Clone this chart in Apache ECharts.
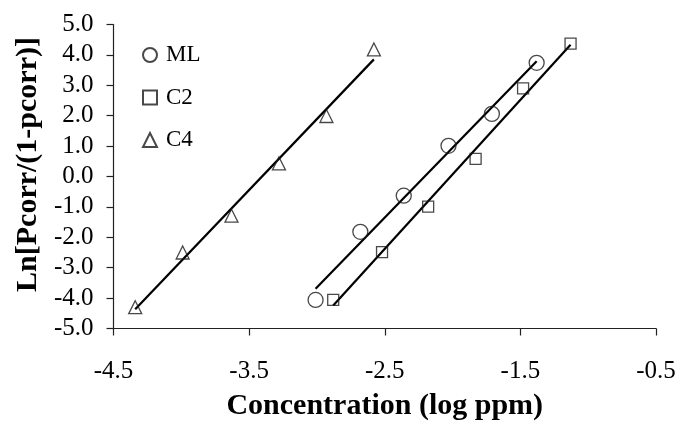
<!DOCTYPE html>
<html>
<head>
<meta charset="utf-8">
<script src="https://cdn.jsdelivr.net/npm/echarts@6/dist/echarts.min.js"></script>
<style>
  html, body { margin: 0; padding: 0; background: #fff; }
  #chart { width: 679px; height: 421px; }
</style>
</head>
<body>
<div id="chart"></div>
<script>
// Probit-style dose–response data: log concentration vs Ln[P/(1-P)]
const mlX = [-3.01, -2.68, -2.36, -2.03, -1.71, -1.38];
const mlY = [-4.06, -1.82, -0.63, 1.01, 2.06, 3.74];
const c2X = [-2.88, -2.52, -2.18, -1.83, -1.48, -1.13];
const c2Y = [-4.06, -2.49, -0.99, 0.58, 2.90, 4.37];
const c4X = [-4.34, -3.99, -3.63, -3.28, -2.93, -2.58];
const c4Y = [-4.30, -2.50, -1.29, 0.43, 1.99, 4.18];

const seriesNames = ['ML', 'C2', 'C4'];
const xTicks = { min: -4.5, max: -0.5, step: 1 };
const yTicks = { min: -5, max: 5, step: 1 };

const FONT = "'Liberation Serif', 'Times New Roman', serif";

function pairs(xs, ys) { return xs.map((x, i) => [x, ys[i]]); }

// Least-squares straight line over the range of the observed x values
function fitLine(xs, ys) {
  const n = xs.length;
  const mx = xs.reduce((a, b) => a + b, 0) / n;
  const my = ys.reduce((a, b) => a + b, 0) / n;
  let sxy = 0, sxx = 0;
  for (let i = 0; i < n; i++) {
    sxy += (xs[i] - mx) * (ys[i] - my);
    sxx += (xs[i] - mx) * (xs[i] - mx);
  }
  const b = sxy / sxx, a = my - b * mx;
  const x0 = Math.min(...xs), x1 = Math.max(...xs);
  return [[x0, a + b * x0], [x1, a + b * x1]];
}

const markerStyle = { color: 'rgba(255,255,255,0)', borderColor: '#1a1a1a', borderWidth: 1.3 };

function scatter(name, xs, ys, symbol, size) {
  return {
    name, type: 'scatter', data: pairs(xs, ys), symbol, symbolSize: size,
    itemStyle: markerStyle, z: 3
  };
}
function trend(xs, ys) {
  return {
    type: 'line', data: fitLine(xs, ys), showSymbol: false, symbol: 'none',
    lineStyle: { color: '#000', width: 2.2 }, silent: true, z: 2
  };
}

const chart = echarts.init(document.getElementById('chart'), null, { renderer: 'canvas' });
chart.setOption({
  animation: false,
  backgroundColor: '#fff',
  grid: { left: 113.5, right: 23, top: 24.5, bottom: 92.5, containLabel: false, outerBoundsMode: 'none' },
  legend: {
    data: [
      { name: 'ML', icon: 'circle' },
      { name: 'C2', icon: 'rect' },
      { name: 'C4', icon: 'triangle' }
    ],
    orient: 'vertical', left: 137, top: 38,
    itemWidth: 14, itemHeight: 14, itemGap: 18.5,
    textStyle: { fontFamily: FONT, fontSize: 23, color: '#000', lineHeight: 24, padding: [0, 0, 0, 4] }
  },
  xAxis: {
    type: 'value', min: xTicks.min, max: xTicks.max, interval: xTicks.step,
    name: 'Concentration (log ppm)', nameLocation: 'middle', nameGap: 63,
    nameTextStyle: { fontFamily: FONT, fontSize: 30, fontWeight: 'bold', color: '#000' },
    axisLine: { onZero: false, lineStyle: { color: '#222', width: 1.2 } },
    axisTick: { show: true, length: 7, lineStyle: { color: '#222', width: 1.2 } },
    axisLabel: { fontFamily: FONT, fontSize: 25, color: '#000', margin: 30, formatter: v => v.toFixed(1) },
    splitLine: { show: false }
  },
  yAxis: {
    type: 'value', min: yTicks.min, max: yTicks.max, interval: yTicks.step,
    name: 'Ln[Pcorr/(1-pcorr)]', nameLocation: 'middle', nameGap: 70, nameRotate: 90,
    nameTextStyle: { fontFamily: FONT, fontSize: 30, fontWeight: 'bold', color: '#000', padding: [0, 0, 0, 24] },
    axisLine: { show: true, onZero: false, lineStyle: { color: '#222', width: 1.2 } },
    axisTick: { show: true, length: 7, lineStyle: { color: '#222', width: 1.2 } },
    axisLabel: { fontFamily: FONT, fontSize: 25, color: '#000', margin: 20, formatter: v => v.toFixed(1) },
    splitLine: { show: false }
  },
  series: [
    trend(mlX, mlY), trend(c2X, c2Y), trend(c4X, c4Y),
    scatter(seriesNames[0], mlX, mlY, 'circle', 15),
    scatter(seriesNames[1], c2X, c2Y, 'rect', 11),
    scatter(seriesNames[2], c4X, c4Y, 'triangle', 13)
  ]
});
</script>
</body>
</html>
